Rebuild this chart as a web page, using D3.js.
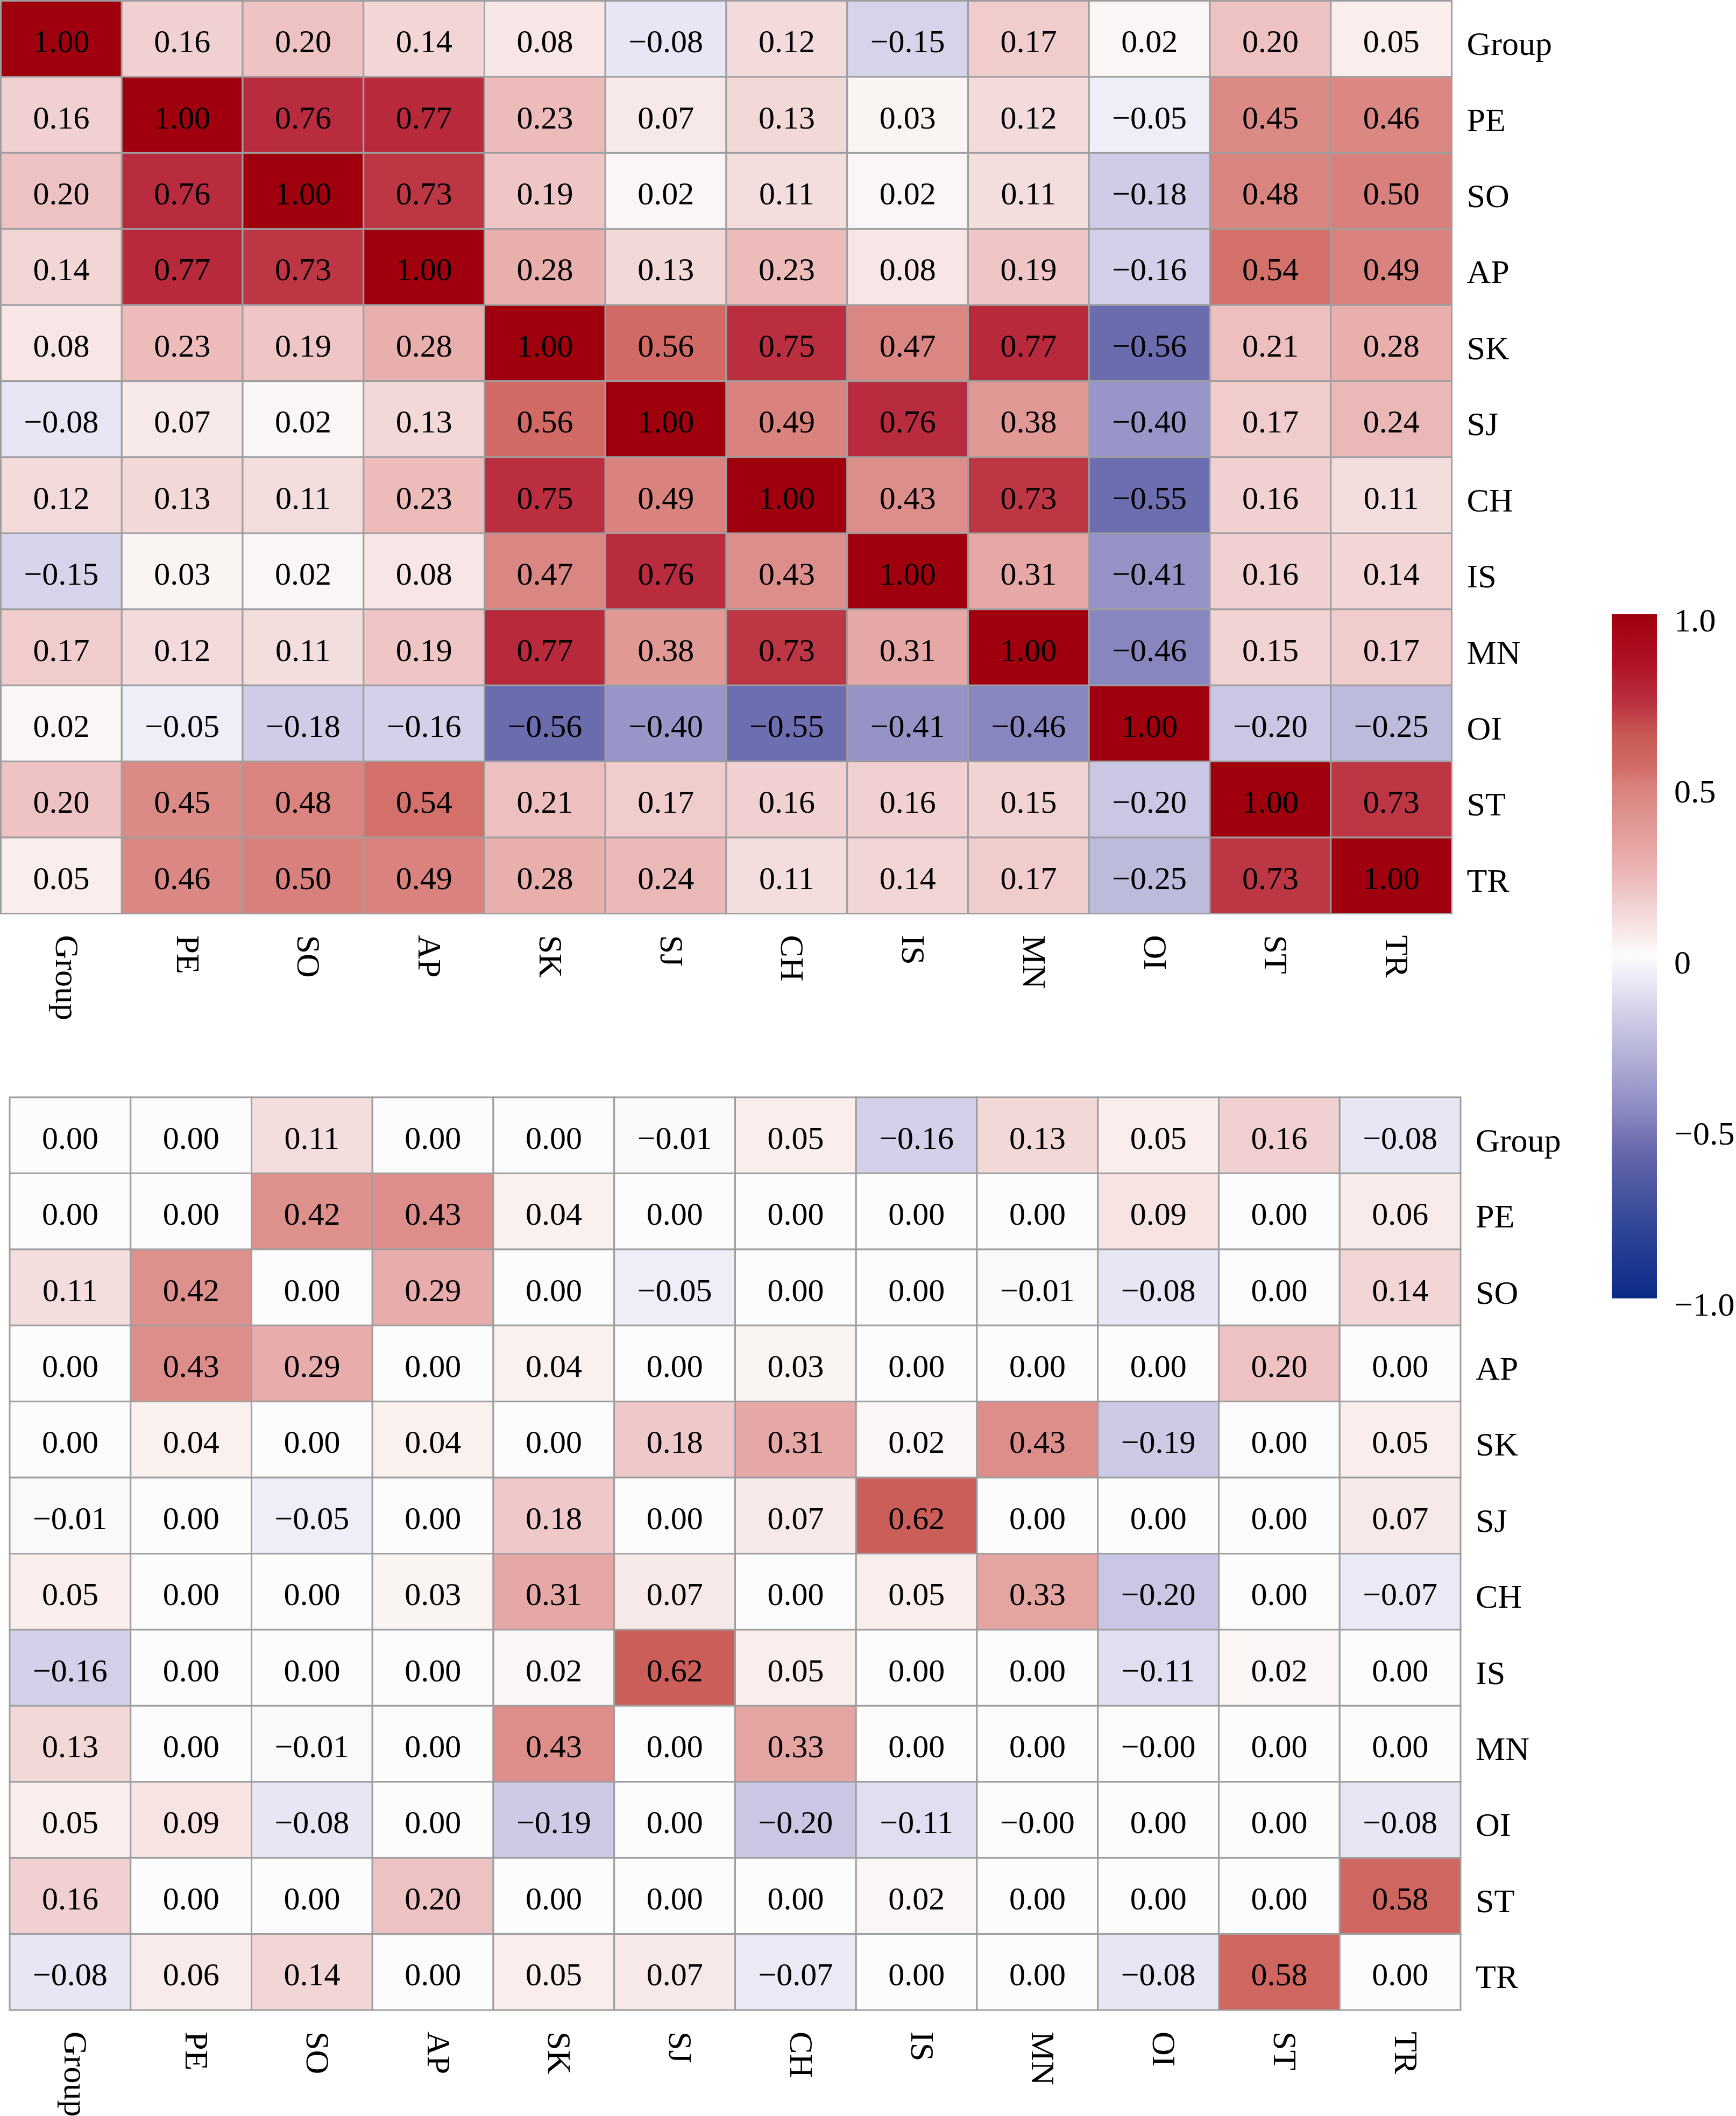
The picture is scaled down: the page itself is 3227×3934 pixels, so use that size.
<!DOCTYPE html>
<html>
<head>
<meta charset="utf-8">
<script src="https://cdn.jsdelivr.net/npm/d3@7"></script>
<style>
  body { margin: 0; background: #fff; }
  svg { display: block; font-family: "Liberation Serif", "DejaVu Serif", serif; }
</style>
</head>
<body>
<div class="container"></div>
<script>
document.addEventListener('DOMContentLoaded', function(){

    // Variables (row / column order)
    const vars = ["Group", "PE", "SO", "AP", "SK", "SJ", "CH", "IS", "MN", "OI", "ST", "TR"]

    // Upper panel: correlation matrix
    const corrTop = [
        [1.00, 0.16, 0.20, 0.14, 0.08, -0.08, 0.12, -0.15, 0.17, 0.02, 0.20, 0.05],
        [0.16, 1.00, 0.76, 0.77, 0.23, 0.07, 0.13, 0.03, 0.12, -0.05, 0.45, 0.46],
        [0.20, 0.76, 1.00, 0.73, 0.19, 0.02, 0.11, 0.02, 0.11, -0.18, 0.48, 0.50],
        [0.14, 0.77, 0.73, 1.00, 0.28, 0.13, 0.23, 0.08, 0.19, -0.16, 0.54, 0.49],
        [0.08, 0.23, 0.19, 0.28, 1.00, 0.56, 0.75, 0.47, 0.77, -0.56, 0.21, 0.28],
        [-0.08, 0.07, 0.02, 0.13, 0.56, 1.00, 0.49, 0.76, 0.38, -0.40, 0.17, 0.24],
        [0.12, 0.13, 0.11, 0.23, 0.75, 0.49, 1.00, 0.43, 0.73, -0.55, 0.16, 0.11],
        [-0.15, 0.03, 0.02, 0.08, 0.47, 0.76, 0.43, 1.00, 0.31, -0.41, 0.16, 0.14],
        [0.17, 0.12, 0.11, 0.19, 0.77, 0.38, 0.73, 0.31, 1.00, -0.46, 0.15, 0.17],
        [0.02, -0.05, -0.18, -0.16, -0.56, -0.40, -0.55, -0.41, -0.46, 1.00, -0.20, -0.25],
        [0.20, 0.45, 0.48, 0.54, 0.21, 0.17, 0.16, 0.16, 0.15, -0.20, 1.00, 0.73],
        [0.05, 0.46, 0.50, 0.49, 0.28, 0.24, 0.11, 0.14, 0.17, -0.25, 0.73, 1.00]
    ]

    // Lower panel: partial correlations
    const corrBottom = [
        [0.00, 0.00, 0.11, 0.00, 0.00, -0.01, 0.05, -0.16, 0.13, 0.05, 0.16, -0.08],
        [0.00, 0.00, 0.42, 0.43, 0.04, 0.00, 0.00, 0.00, 0.00, 0.09, 0.00, 0.06],
        [0.11, 0.42, 0.00, 0.29, 0.00, -0.05, 0.00, 0.00, -0.01, -0.08, 0.00, 0.14],
        [0.00, 0.43, 0.29, 0.00, 0.04, 0.00, 0.03, 0.00, 0.00, 0.00, 0.20, 0.00],
        [0.00, 0.04, 0.00, 0.04, 0.00, 0.18, 0.31, 0.02, 0.43, -0.19, 0.00, 0.05],
        [-0.01, 0.00, -0.05, 0.00, 0.18, 0.00, 0.07, 0.62, 0.00, 0.00, 0.00, 0.07],
        [0.05, 0.00, 0.00, 0.03, 0.31, 0.07, 0.00, 0.05, 0.33, -0.20, 0.00, -0.07],
        [-0.16, 0.00, 0.00, 0.00, 0.02, 0.62, 0.05, 0.00, 0.00, -0.11, 0.02, 0.00],
        [0.13, 0.00, -0.01, 0.00, 0.43, 0.00, 0.33, 0.00, 0.00, -0.004, 0.00, 0.00],
        [0.05, 0.09, -0.08, 0.00, -0.19, 0.00, -0.20, -0.11, -0.004, 0.00, 0.00, -0.08],
        [0.16, 0.00, 0.00, 0.20, 0.00, 0.00, 0.00, 0.02, 0.00, 0.00, 0.00, 0.58],
        [-0.08, 0.06, 0.14, 0.00, 0.05, 0.07, -0.07, 0.00, 0.00, -0.08, 0.58, 0.00]
    ]

    // Colour bar ticks
    const legendTicks = [1, 0.5, 0, -0.5, -1]
    const legendTickLabels = ["1.0", "0.5", "0", "\u22120.5", "\u22121.0"]

    // Palette stops (value -> colour)
    const paletteStops = [-1, -0.8, -0.6, -0.5, -0.4, -0.2, -0.05, 0, 0.05, 0.15, 0.2, 0.3, 0.45, 0.5, 0.55, 0.65, 0.75, 0.85, 1]
    const paletteColors = ["#0b2a88", "#2f4596", "#5e62a8", "#7c7bb8", "#9896c8", "#c9c7e3", "#efeef8", "#fcfcfc",
                           "#f9eeec", "#f1d3d3", "#eec2c2", "#e6aaa8", "#dc8a86", "#d8807c", "#d26c66", "#c85852",
                           "#ba2e40", "#b01428", "#a0000d"]

    const W = 3227
    const H = 3934
    const hmWidth = 2697
    const hmHeight = 1697
    const gridColor = "#9e9e9e"

    const color = d3.scaleLinear().domain(paletteStops).range(paletteColors).clamp(true)
    const fmt = v => (v < 0 ? "\u2212" : "") + Math.abs(v).toFixed(2)

    const svg = d3.select(".container")
        .append("svg")
        .attr("width", W)
        .attr("height", H)

    function drawHeatmap(g, matrix) {
        const x = d3.scaleBand().domain(vars).range([0, hmWidth])
        const y = d3.scaleBand().domain(vars).range([0, hmHeight])

        const cells = []
        matrix.forEach((row, i) => row.forEach((v, j) => cells.push({r: vars[i], c: vars[j], v: v})))

        g.append("g")
            .selectAll("rect")
            .data(cells)
            .enter()
            .append("rect")
                .attr("x", d => x(d.c))
                .attr("y", d => y(d.r))
                .attr("width", x.bandwidth())
                .attr("height", y.bandwidth())
                .style("fill", d => color(d.v))
                .style("stroke", gridColor)
                .style("stroke-width", 3)

        g.append("g")
            .selectAll("text")
            .data(cells)
            .enter()
            .append("text")
                .attr("x", d => x(d.c) + x.bandwidth() / 2)
                .attr("y", d => y(d.r) + y.bandwidth() / 2 + 25)
                .attr("text-anchor", "middle")
                .style("font-size", "60px")
                .text(d => fmt(d.v))

        // row labels (right side)
        g.append("g")
            .selectAll("text")
            .data(vars)
            .enter()
            .append("text")
                .attr("x", hmWidth + 28)
                .attr("y", d => y(d) + y.bandwidth() / 2 + 30)
                .style("font-size", "62px")
                .text(d => d)

        // column labels (rotated, below)
        g.append("g")
            .selectAll("text")
            .data(vars)
            .enter()
            .append("text")
                .attr("transform", d => `translate(${x(d) + x.bandwidth() / 2 - 10}, ${hmHeight + 40}) rotate(90)`)
                .style("font-size", "62px")
                .text(d => d)
    }

    drawHeatmap(svg.append("g").attr("transform", "translate(1.5, 1.5)"), corrTop)
    drawHeatmap(svg.append("g").attr("transform", "translate(18, 2040)"), corrBottom)

    // Colour bar
    const barX = 2996, barW = 84, barTop = 1142, barBottom = 2414
    const yBar = d3.scaleLinear().domain([1, -1]).range([barTop, barBottom])

    const defs = svg.append("defs")
    const grad = defs.append("linearGradient")
        .attr("id", "cbar")
        .attr("x1", 0).attr("y1", 1).attr("x2", 0).attr("y2", 0)
    grad.selectAll("stop")
        .data(d3.range(0, 41).map(k => -1 + k * 0.05))
        .enter()
        .append("stop")
            .attr("offset", d => (d + 1) / 2)
            .attr("stop-color", d => color(d))

    svg.append("rect")
        .attr("x", barX)
        .attr("y", barTop)
        .attr("width", barW)
        .attr("height", barBottom - barTop)
        .style("fill", "url(#cbar)")

    const cbAxis = svg.append("g")
        .attr("transform", `translate(${barX + barW}, 0)`)
        .call(d3.axisRight(yBar)
            .tickValues(legendTicks)
            .tickSize(0)
            .tickPadding(32)
            .tickFormat((d, i) => legendTickLabels[i]))
    cbAxis.select(".domain").remove()
    cbAxis.selectAll("text")
        .attr("dy", "0.5em")
        .style("font-family", "'Liberation Serif', serif")
        .style("font-size", "62px")
        .style("fill", "#000")

});
</script>
</body>
</html>
